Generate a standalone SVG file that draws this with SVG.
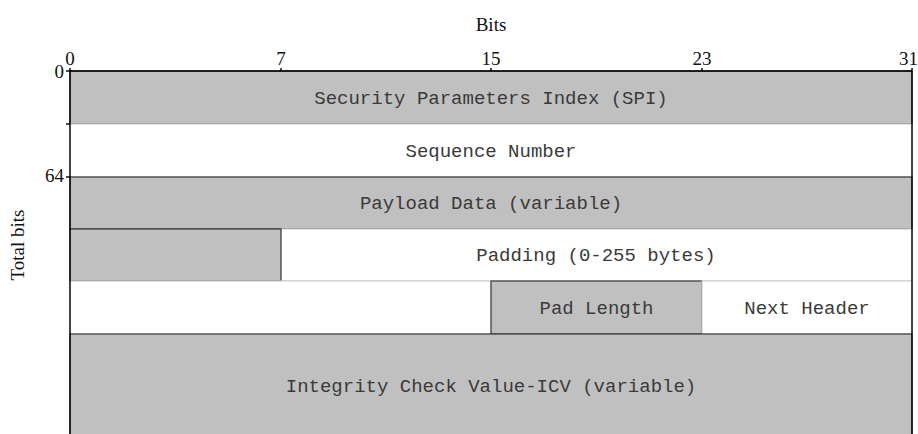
<svg xmlns="http://www.w3.org/2000/svg" width="918" height="434" viewBox="0 0 918 434">
  <style>
    .shade { fill: #c0c0c0; stroke: #3a3a3a; stroke-width: 1.2; }
    .blank { fill: #ffffff; stroke: #cfcfcf; stroke-width: 1.2; }
    .field { font-family: "Liberation Mono", "Courier New", monospace; font-size: 19px; fill: #3a3a3a; text-anchor: middle; }
    .num { font-family: "Liberation Serif", "Times New Roman", serif; font-size: 19px; fill: #111; }
    .axis { stroke: #000; stroke-width: 1.4; fill: none; }
  </style>

  <!-- axis labels -->
  <g id="labels">
    <text class="num" x="491" y="31" text-anchor="middle">Bits</text>
    <text class="num" x="70" y="65" text-anchor="middle">0</text>
    <text class="num" x="281" y="65" text-anchor="middle">7</text>
    <text class="num" x="491" y="65" text-anchor="middle">15</text>
    <text class="num" x="702" y="65" text-anchor="middle">23</text>
    <text class="num" x="918" y="65" text-anchor="end">31</text>
    <text class="num" x="64" y="78" text-anchor="end">0</text>
    <text class="num" x="64" y="182" text-anchor="end">64</text>
    <text class="num" x="0" y="0" text-anchor="middle" transform="translate(24 245) rotate(-90)">Total bits</text>
  </g>

  <!-- header fields -->
  <g id="spi">
    <rect class="shade" x="70" y="71" width="842" height="53"/>
    <text class="field" x="491" y="104">Security Parameters Index (SPI)</text>
  </g>
  <g id="sequence">
    <rect class="blank" x="70" y="124" width="842" height="53"/>
    <text class="field" x="491" y="157">Sequence Number</text>
  </g>
  <g id="payload">
    <rect class="shade" x="70" y="177" width="842" height="52"/>
    <text class="field" x="491" y="209">Payload Data (variable)</text>
  </g>
  <g id="padding">
    <rect class="blank" x="281" y="229" width="631" height="52"/>
    <rect class="shade" x="70" y="229" width="211" height="52"/>
    <text class="field" x="596" y="261">Padding (0-255 bytes)</text>
  </g>
  <g id="gap">
    <rect class="blank" x="70" y="281" width="421" height="53"/>
  </g>
  <g id="pad-length">
    <rect class="shade" x="491" y="281" width="211" height="53"/>
    <text class="field" x="596.5" y="314">Pad Length</text>
  </g>
  <g id="next-header">
    <rect class="blank" x="702" y="281" width="210" height="53"/>
    <text class="field" x="807" y="314">Next Header</text>
  </g>
  <g id="icv">
    <rect class="shade" x="70" y="334" width="842" height="110"/>
    <text class="field" x="491" y="392">Integrity Check Value-ICV (variable)</text>
  </g>

  <!-- axes and ticks -->
  <g id="connectors">
    <line class="axis" x1="70" y1="68" x2="70" y2="434"/>
    <line class="axis" x1="912" y1="68" x2="912" y2="434"/>
    <line class="axis" x1="70" y1="71" x2="912" y2="71"/>
    <line class="axis" x1="281" y1="68" x2="281" y2="71"/>
    <line class="axis" x1="491" y1="68" x2="491" y2="71"/>
    <line class="axis" x1="702" y1="68" x2="702" y2="71"/>
    <line class="axis" x1="66" y1="71" x2="70" y2="71"/>
    <line class="axis" x1="66" y1="124" x2="70" y2="124"/>
    <line class="axis" x1="66" y1="177" x2="70" y2="177"/>
  </g>
</svg>
